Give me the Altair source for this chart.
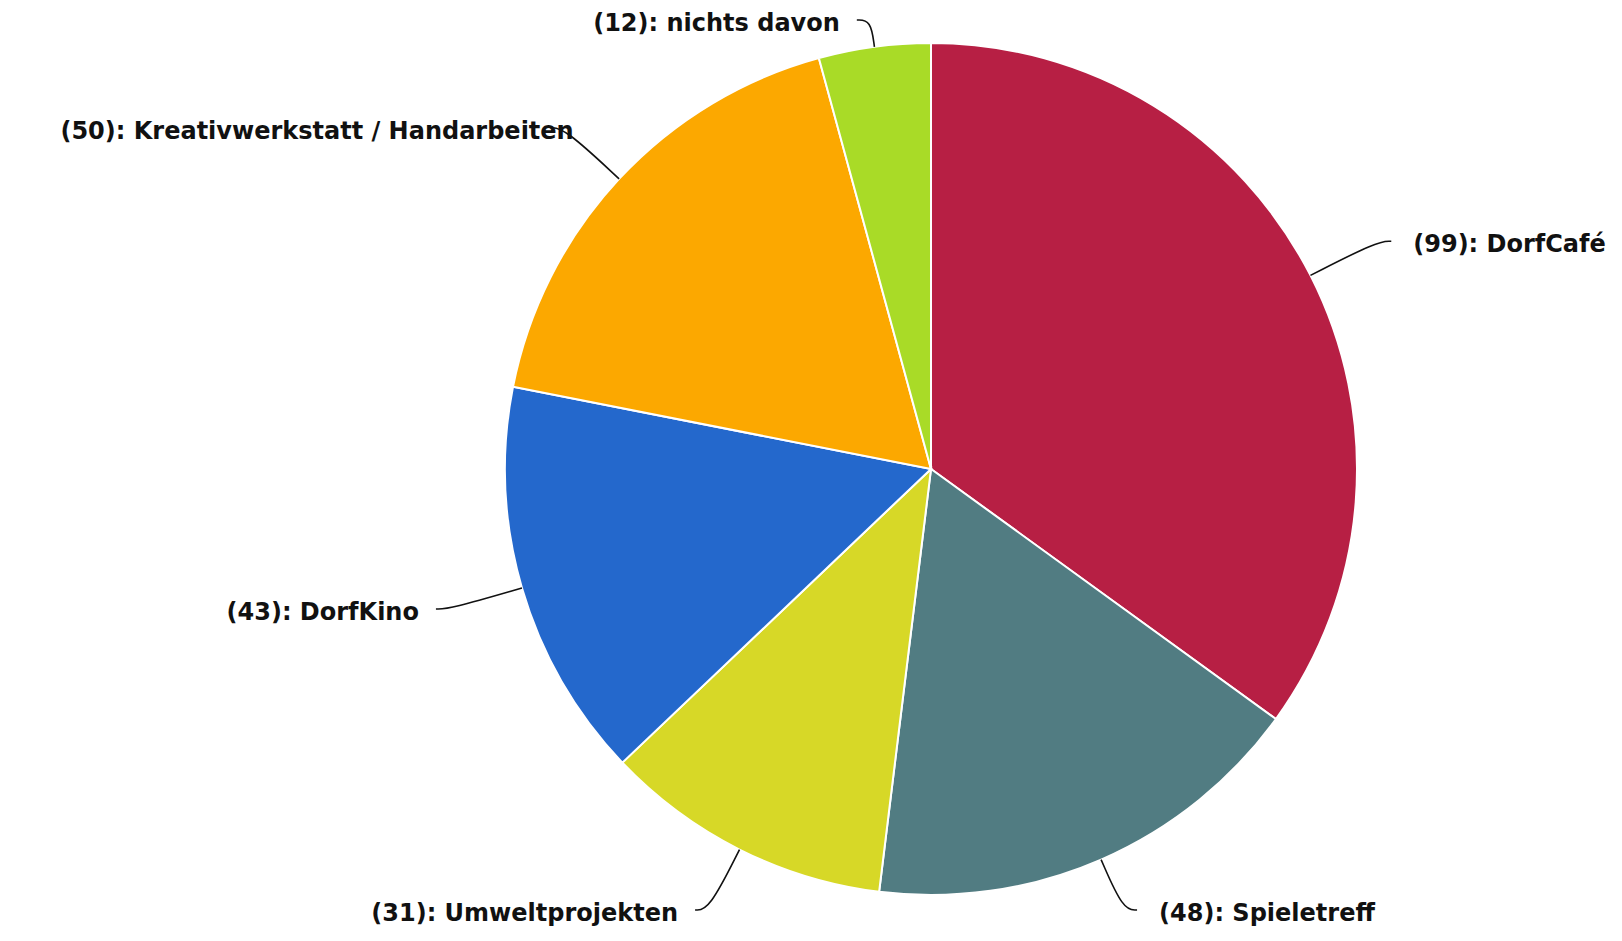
import math
import altair as alt
import pandas as pd

# ---- data ----
categories = ["DorfCafé", "Spieletreff", "Umweltprojekten", "DorfKino",
              "Kreativwerkstatt / Handarbeiten", "nichts davon"]
values = [99, 48, 31, 43, 50, 12]
colors = ["#b71f44", "#517c82", "#d7d827", "#2468cc", "#fca800", "#a9db27"]

# ---- layout (chart pixel space) ----
MARGIN = 8
W, H = 1606, 925
CX, CY = 931 - MARGIN, 469 - MARGIN
R = 426
RADIAL = 75        # radial length of connector
HORIZ = 14         # horizontal tail of connector
YMIN, YMAX = 20 - MARGIN, 910 - MARGIN
GAP_R, GAP_L = 22, 17
CHAR_W = 15.1      # approx label width per char, to keep labels on canvas
LEFT_EDGE = 15 - MARGIN

total = sum(values)
pie_df = pd.DataFrame({"cat": categories, "value": values, "idx": list(range(len(values)))})

line_rows, text_right, text_left = [], [], []
cum = 0
for i, (c, v) in enumerate(zip(categories, values)):
    mid = (cum + v / 2) / total * 2 * math.pi
    cum += v
    dx, dy = math.sin(mid), -math.cos(mid)
    rx, ry = CX + R * dx, CY + R * dy
    L = RADIAL
    ey = ry + L * dy
    if ey < YMIN:
        L = (YMIN - ry) / dy
    elif ey > YMAX:
        L = (YMAX - ry) / dy
    ex, ey = rx + L * dx, ry + L * dy
    side = 1 if dx >= 0 else -1
    tx = ex + side * HORIZ
    label = f"({v}): {c}"
    line_rows += [
        {"cat": c, "step": 0, "px": rx, "py": ry},
        {"cat": c, "step": 1, "px": ex, "py": ey},
        {"cat": c, "step": 2, "px": tx, "py": ey},
    ]
    if side > 0:
        text_right.append({"label": label, "px": tx + GAP_R, "py": ey + 4})
    else:
        x_anchor = max(tx - GAP_L, LEFT_EDGE + CHAR_W * len(label))
        text_left.append({"label": label, "px": x_anchor, "py": ey + 4})

line_df = pd.DataFrame(line_rows)
tr_df = pd.DataFrame(text_right)
tl_df = pd.DataFrame(text_left)

xs = alt.Scale(domain=[0, W], nice=False, zero=False)
ys = alt.Scale(domain=[0, H], nice=False, zero=False, reverse=True)

pie = alt.Chart(pie_df).mark_arc(outerRadius=R, stroke="white", strokeWidth=2).encode(
    theta=alt.Theta("value:Q", stack=True),
    color=alt.Color("cat:N", scale=alt.Scale(domain=categories, range=colors), legend=None),
    order=alt.Order("idx:Q"),
    x=alt.value(CX),
    y=alt.value(CY),
)

lines = alt.Chart(line_df).mark_line(interpolate="basis", color="#111111", strokeWidth=1.6).encode(
    x=alt.X("px:Q", scale=xs, axis=None),
    y=alt.Y("py:Q", scale=ys, axis=None),
    detail="cat:N",
    order="step:Q",
)

text_style = dict(baseline="middle", font="DejaVu Sans", fontSize=24,
                  fontWeight="bold", color="#111111")

tr = alt.Chart(tr_df).mark_text(align="left", **text_style).encode(
    x=alt.X("px:Q", scale=xs, axis=None),
    y=alt.Y("py:Q", scale=ys, axis=None),
    text="label:N",
)
tl = alt.Chart(tl_df).mark_text(align="right", **text_style).encode(
    x=alt.X("px:Q", scale=xs, axis=None),
    y=alt.Y("py:Q", scale=ys, axis=None),
    text="label:N",
)

chart = alt.layer(pie, lines, tr, tl).properties(
    width=W, height=H, padding=0, autosize=alt.AutoSizeParams(type="none"),
    background="white",
).configure_view(stroke=None)

chart.save("out.html", embed_options={"renderer": "svg", "actions": False})
